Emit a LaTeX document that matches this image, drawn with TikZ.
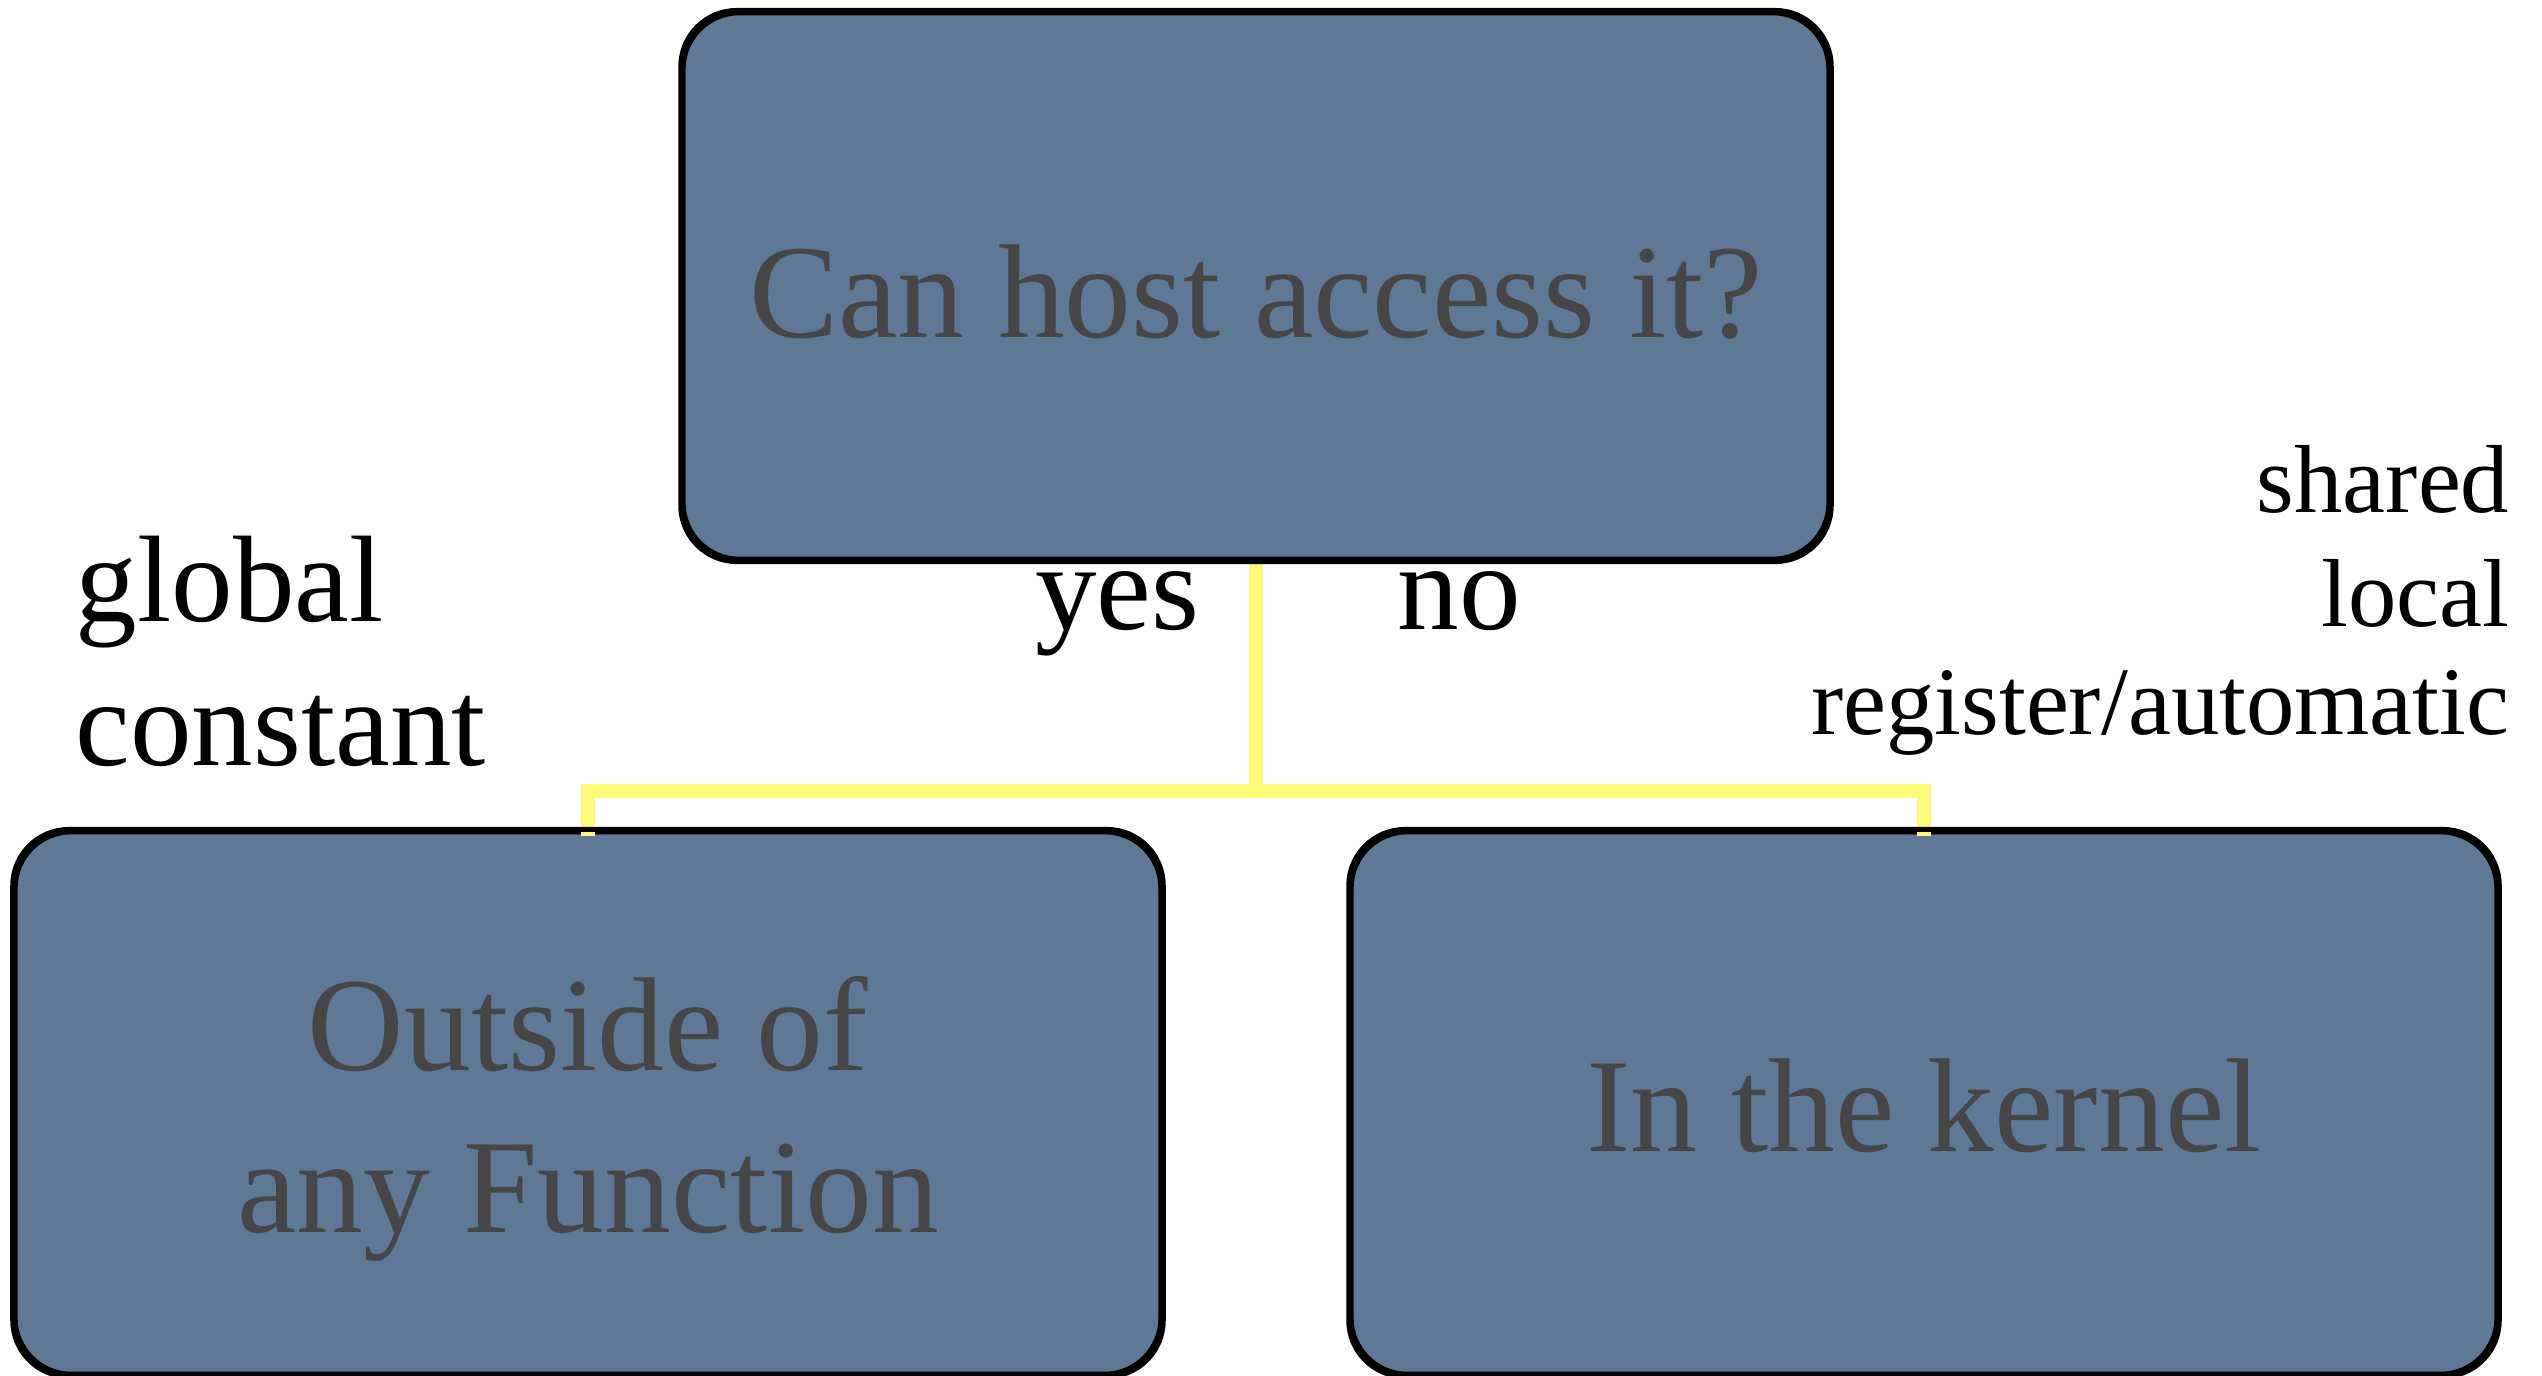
\documentclass[tikz,border=0pt]{standalone}
\usepackage{fontspec}
\setmainfont{Liberation Serif}

\definecolor{boxfill}{RGB}{94,120,150}
\definecolor{boxtext}{RGB}{70,70,70}
\definecolor{linkyellow}{RGB}{255,250,120}

\tikzset{
  decision/.style={draw=black, line width=1.4pt, fill=boxfill, rounded corners=16pt,
    minimum width=11.45cm, inner sep=0pt},
  boxlabel/.style={align=center, text=boxtext, inner sep=0pt,
    font=\fontsize{38}{46}\selectfont},
  outline/.style={draw=black, line width=1.4pt, rounded corners=16pt},
  link/.style={draw=linkyellow, line width=4pt},
  answer/.style={inner sep=0pt, font=\fontsize{35}{40}\selectfont, text=black},
  kind/.style={inner sep=0pt, font=\fontsize{27.5}{30}\selectfont, text=black, anchor=base east}
}

\begin{document}
\begin{tikzpicture}[x=0.01cm, y=-0.01cm]
  \useasboundingbox (0,0) rectangle (2542,1375);

  % decision boxes
  \node[decision, minimum height=5.46cm] (host) at (1256,286) {};
  \node[decision, minimum height=5.42cm] (outside) at (588,1103) {};
  \node[decision, minimum height=5.42cm] (kernel) at (1924,1103) {};

  % box texts (base = baseline of the last line)
  \node[boxlabel, anchor=base] (hosttext) at (1256,337) {Can host access it?};
  \node[boxlabel, anchor=base] (outsidetext) at (588,1232) {Outside of\\any Function};
  \node[boxlabel, anchor=base] (kerneltext) at (1924,1151) {In the kernel};

  % branch point of the connector
  \coordinate (split) at (host.south |- 0,791);

  % labels
  \node[answer, anchor=base east] (yes) at (1200,629) {yes};
  \node[answer, anchor=base west] (no) at (1397,629) {no};
  \node[answer, anchor=base west] (global) at (75,621) {global};
  \node[answer, anchor=base west] (constant) at (75,765) {constant};
  \node[kind] (shared) at (2510,512) {shared};
  \node[kind] (local) at (2510,626) {local};
  \node[kind] (register) at (2510,734) {register/automatic};

  % yellow connectors
  \draw[link] (host.south) -- (split);
  \draw[link, line cap=rect] (split) -| (outside.north);
  \draw[link, line cap=rect] (split) -| (kernel.north);

  % box borders drawn again over the connector ends
  \draw[outline] (host.south west) rectangle (host.north east);
  \draw[outline] (outside.south west) rectangle (outside.north east);
  \draw[outline] (kernel.south west) rectangle (kernel.north east);
\end{tikzpicture}
\end{document}
